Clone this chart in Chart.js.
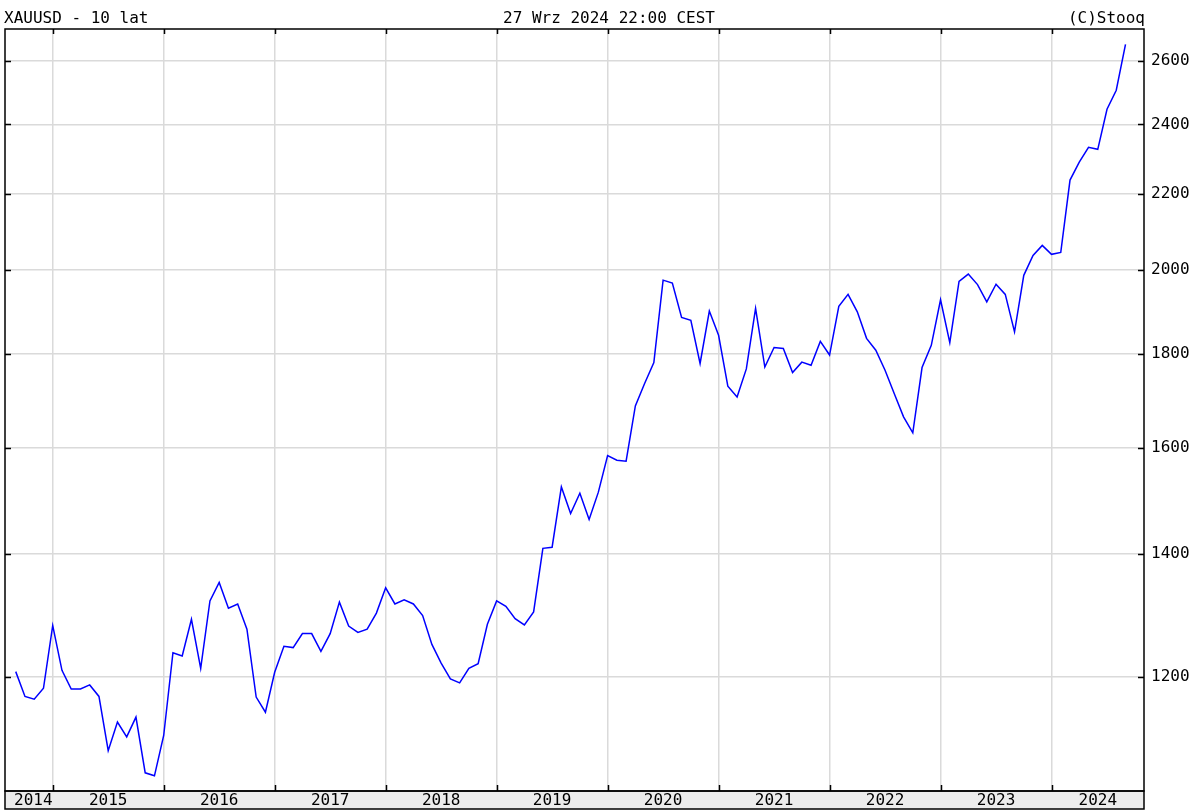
<!DOCTYPE html>
<html>
<head>
<meta charset="utf-8">
<title>XAUUSD - 10 lat</title>
<script src="https://cdn.jsdelivr.net/npm/chart.js@4/dist/chart.umd.min.js"></script>
<style>
  html, body { margin: 0; padding: 0; background: #fff; }
  canvas { display: block; }
</style>
</head>
<body>
<canvas id="goldChart" width="1196" height="810"></canvas>
<script>
// ===== DATI =====
// mesi (chiusure mensili), da wrz 2014 a wrz 2024
const startYear = 2014;
const startMonth = 9; // wrzesień
const closes = [
  1208, 1171, 1167, 1183,
  1280, 1210, 1182, 1182, 1188, 1171, 1094, 1134, 1113, 1141, 1064, 1060,
  1115, 1237, 1232, 1290, 1213, 1320, 1351, 1308, 1315, 1274, 1170, 1148,
  1207, 1247, 1245, 1267, 1267, 1239, 1267, 1318, 1279, 1269, 1274, 1300,
  1342, 1315, 1322, 1315, 1296, 1250, 1221, 1197, 1191, 1213, 1220, 1282,
  1320, 1311, 1291, 1281, 1302, 1410, 1412, 1523, 1473, 1511, 1462, 1513,
  1584, 1575, 1573, 1686, 1734, 1780, 1974, 1967, 1884, 1877, 1778, 1899,
  1842, 1728, 1705, 1766, 1905, 1770, 1814, 1812, 1758, 1781, 1774, 1828,
  1797, 1910, 1939, 1897, 1835, 1808, 1763, 1712, 1663, 1630, 1769, 1819,
  1926, 1825, 1971, 1989, 1963, 1921, 1964, 1939, 1850, 1986, 2036, 2062,
  2039, 2044, 2238, 2289, 2332, 2326, 2446, 2505, 2653
];
const years = [2014, 2015, 2016, 2017, 2018, 2019, 2020, 2021, 2022, 2023, 2024];
const priceTicks = [1200, 1400, 1600, 1800, 2000, 2200, 2400, 2600];

const titleLeft = "XAUUSD - 10 lat";
const titleCenter = "27 Wrz 2024 22:00 CEST";
const titleRight = "(C)Stooq";

// x = mesi da gennaio 2015
const points = closes.map((v, i) => ({
  x: (startYear - 2015) * 12 + (startMonth - 1) + i,
  y: v,
}));
const yearStarts = years.slice(1).map((y) => (y - 2015) * 12);

const FONT = '16px "DejaVu Sans Mono", "Liberation Mono", monospace';
const GRID = "#dadada";

// ===== DISEGNO CORNICE, TACCHE, ETICHETTE =====
const stooqFrame = {
  id: "stooqFrame",
  beforeDraw(chart) {
    const c = chart.ctx;
    c.save();
    c.fillStyle = "#fff";
    c.fillRect(0, 0, chart.width, chart.height);
    c.restore();
  },
  afterDraw(chart) {
    const c = chart.ctx;
    const a = chart.chartArea;
    const xs = chart.scales.x;
    const ys = chart.scales.y;
    const bandBottom = 809;

    c.save();
    // banda asse x
    c.fillStyle = "#ececec";
    c.fillRect(a.left, a.bottom, a.right - a.left, bandBottom - a.bottom);

    c.strokeStyle = "#000";
    c.lineWidth = 1.5;
    c.strokeRect(a.left, a.top, a.right - a.left, a.bottom - a.top);
    c.strokeRect(a.left, a.bottom, a.right - a.left, bandBottom - a.bottom);

    // tacche anni
    c.beginPath();
    yearStarts.forEach((v) => {
      const px = Math.round(xs.getPixelForValue(v)) + 0.5;
      c.moveTo(px, a.top);
      c.lineTo(px, a.top + 5);
      c.moveTo(px, a.bottom);
      c.lineTo(px, a.bottom - 6);
    });
    // tacche prezzi
    priceTicks.forEach((v) => {
      const py = Math.round(ys.getPixelForValue(v)) + 0.5;
      c.moveTo(a.right, py);
      c.lineTo(a.right - 6, py);
      c.moveTo(a.left, py);
      c.lineTo(a.left + 6, py);
    });
    c.lineWidth = 1.5;
    c.stroke();

    c.font = FONT;
    c.fillStyle = "#000";

    // etichette prezzi
    c.textAlign = "left";
    c.textBaseline = "middle";
    priceTicks.forEach((v) => {
      c.fillText(String(v), a.right + 7, ys.getPixelForValue(v));
    });

    // etichette anni
    c.textAlign = "center";
    years.forEach((y) => {
      const s = Math.max(xs.getPixelForValue((y - 2015) * 12), a.left);
      const e = Math.min(xs.getPixelForValue((y - 2014) * 12), a.right);
      const w = c.measureText(String(y)).width;
      let cx = (s + e) / 2;
      if (cx - w / 2 < a.left + 9) cx = a.left + 9 + w / 2;
      c.fillText(String(y), cx, (a.bottom + bandBottom) / 2 + 1);
    });

    // intestazione
    c.textBaseline = "alphabetic";
    c.textAlign = "left";
    c.fillText(titleLeft, 4, 23);
    c.textAlign = "center";
    c.fillText(titleCenter, 609, 23);
    c.textAlign = "right";
    c.fillText(titleRight, a.right + 1, 23);
    c.restore();
  },
};

const ctx = document.getElementById("goldChart").getContext("2d");
new Chart(ctx, {
  type: "line",
  data: {
    datasets: [
      {
        data: points,
        borderColor: "#0000ff",
        borderWidth: 1.5,
        pointRadius: 0,
        tension: 0,
        fill: false,
      },
    ],
  },
  options: {
    responsive: false,
    animation: false,
    layout: { padding: { left: 5, right: 52, top: 29, bottom: 19 } },
    plugins: {
      legend: { display: false },
      tooltip: { enabled: false },
    },
    scales: {
      x: {
        type: "linear",
        min: -5.16,
        max: 118,
        afterBuildTicks: (s) => {
          s.ticks = yearStarts.map((v) => ({ value: v }));
        },
        afterFit: (s) => {
          s.height = 0;
        },
        ticks: { display: false },
        grid: { color: GRID, lineWidth: 1.5, drawTicks: false },
        border: { display: false },
      },
      y: {
        type: "logarithmic",
        position: "right",
        min: 1040,
        max: 2705,
        afterBuildTicks: (s) => {
          s.ticks = priceTicks.map((v) => ({ value: v }));
        },
        afterFit: (s) => {
          s.width = 0;
        },
        ticks: { display: false },
        grid: { color: GRID, lineWidth: 1.5, drawTicks: false },
        border: { display: false },
      },
    },
  },
  plugins: [stooqFrame],
});
</script>
</body>
</html>
